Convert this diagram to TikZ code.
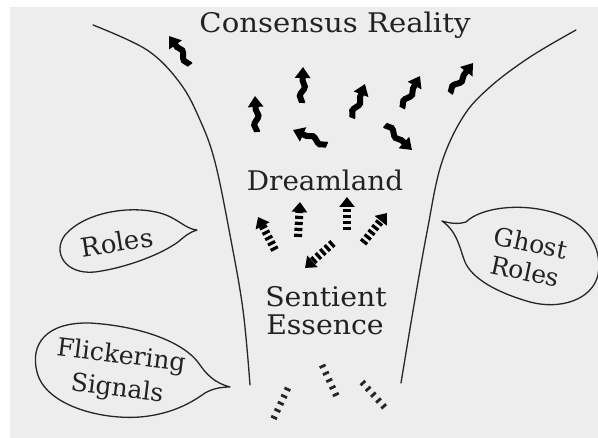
\documentclass[tikz,border=0pt]{standalone}
\usepackage{fontspec}
\setmainfont{DejaVu Serif}
\usetikzlibrary{arrows.meta,decorations.pathmorphing}
\definecolor{bg}{HTML}{EDEDED}
\definecolor{ink}{HTML}{222222}
\begin{document}
\begin{tikzpicture}[x=1pt,y=-1pt,
  lbl/.style={text=ink,inner sep=0pt,font=\fontsize{27}{31}\selectfont},
  blbl/.style={text=ink,inner sep=0pt,align=center},
  funnel/.style={draw=black!85,line width=1.3pt,line cap=round},
  bubble/.style={draw=black!85,line width=1.3pt,line join=round},
  wavy/.style={line width=6pt,draw=black,
    decoration={snake,amplitude=2.4pt,segment length=19pt,pre length=1pt,post length=9pt},
    decorate,-{Triangle[width=15pt,length=11pt]}},
  dotted arrow/.style={line width=8pt,draw=black,dash pattern=on 3.2pt off 2.8pt,
    -{Triangle[width=15pt,length=10pt]}},
  flicker/.style={line width=6.5pt,draw=black!85,dash pattern=on 2.8pt off 5pt}]
\useasboundingbox (0,0) rectangle (598,438);
\fill[white] (0,0) rectangle (598,438);
\fill[bg] (10,7) rectangle (598,438);

% funnel walls
\draw[funnel] plot[smooth,tension=0.6] coordinates {(93,25) (147,50) (180,83) (200,120) (215,162) (230,235) (243,310) (250,385)};
\draw[funnel] plot[smooth,tension=0.6] coordinates {(576,30) (530,57) (490,87) (463,117) (441,165) (427,232) (414,305) (401,383)};

% labels
\node[lbl,anchor=base,xscale=1.08] (title) at (335,33) {Consensus Reality};
\node[lbl,anchor=base,xscale=1.03] (dream) at (325,191) {Dreamland};
\node[lbl,anchor=base,xscale=1.05] (sentient) at (326,307) {Sentient};
\node[lbl,anchor=base,xscale=1.05] (essence) at (325,335) {Essence};

% wavy arrows
\coordinate (w1t) at (190,65);  \coordinate (w1h) at (169,36);
\coordinate (w2t) at (302,103); \coordinate (w2h) at (303,67);
\coordinate (w3t) at (257,132); \coordinate (w3h) at (255,96);
\coordinate (w4t) at (352,118); \coordinate (w4h) at (365,84);
\coordinate (w5t) at (402,108); \coordinate (w5h) at (420,76);
\coordinate (w6t) at (450,93);  \coordinate (w6h) at (473,63);
\coordinate (w7t) at (327,145); \coordinate (w7h) at (293,130);
\coordinate (w8t) at (385,125); \coordinate (w8h) at (412,150);
\foreach \i in {1,...,8} {\draw[wavy] (w\i t) -- (w\i h);}

% dashed arrows
\coordinate (d1t) at (275,250); \coordinate (d1h) at (258,217);
\coordinate (d2t) at (298,237); \coordinate (d2h) at (300,202);
\coordinate (d3t) at (347,230); \coordinate (d3h) at (347,197);
\coordinate (d4t) at (363,243); \coordinate (d4h) at (387,213);
\coordinate (d5t) at (333,243); \coordinate (d5h) at (305,268);
\foreach \i in {1,...,5} {\draw[dotted arrow] (d\i t) -- (d\i h);}

% flickering marks
\coordinate (f1a) at (288,388); \coordinate (f1b) at (272,422);
\coordinate (f2a) at (322,365); \coordinate (f2b) at (337,397);
\coordinate (f3a) at (362,382); \coordinate (f3b) at (387,410);
\foreach \i in {1,2,3} {\draw[flicker] (f\i a) -- (f\i b);}

% bubbles
\draw[bubble] (197,230) .. controls (185,229) and (178,218) .. (160,213)
  .. controls (130,205) and (85,212) .. (65,235)
  .. controls (52,252) and (65,275) .. (95,272)
  .. controls (125,268) and (160,255) .. (178,242)
  .. controls (185,236) and (190,232) .. (197,230) -- cycle;
\node[blbl,rotate=9,font=\fontsize{26}{30}\selectfont] (roles) at (117,242) {Roles};

\draw[bubble] (230,387) .. controls (215,383) and (207,375) .. (200,365)
  .. controls (185,342) and (140,326) .. (90,323)
  .. controls (45,322) and (30,345) .. (37,372)
  .. controls (45,405) and (100,420) .. (140,417)
  .. controls (175,414) and (195,400) .. (205,393)
  .. controls (212,389) and (220,387) .. (230,387) -- cycle;
\node[blbl,rotate=-7,font=\fontsize{25}{33}\selectfont] (flick) at (119,373) {Flickering\\Signals};

\draw[bubble] (442,221) .. controls (452,224) and (460,224) .. (466,222)
  .. controls (480,208) and (520,202) .. (555,213)
  .. controls (585,222) and (603,245) .. (598,275)
  .. controls (592,300) and (560,310) .. (530,302)
  .. controls (495,292) and (472,278) .. (465,262)
  .. controls (460,250) and (458,232) .. (442,221) -- cycle;
\node[blbl,rotate=-12,font=\fontsize{25}{29}\selectfont] (ghost) at (528,257) {Ghost\\Roles};
\end{tikzpicture}
\end{document}
